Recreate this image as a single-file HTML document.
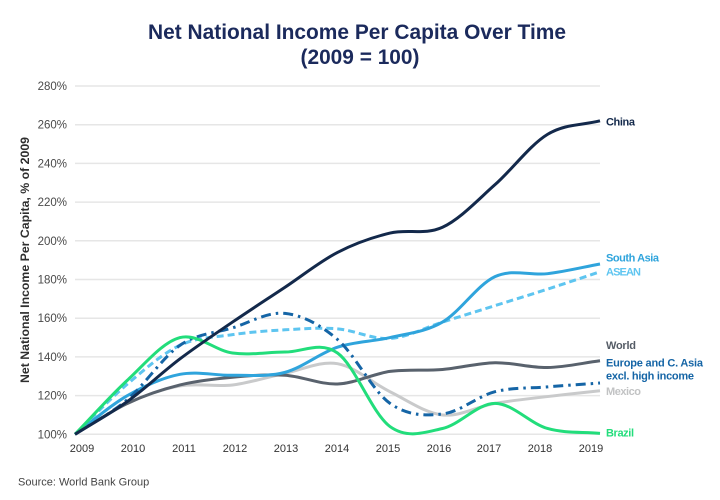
<!DOCTYPE html>
<html><head><meta charset="utf-8"><style>
html,body{margin:0;padding:0;background:#fff;}
svg{display:block;}
text{font-family:"Liberation Sans",Arial,sans-serif;}
</style></head><body>
<svg width="720" height="500" viewBox="0 0 720 500" xmlns="http://www.w3.org/2000/svg">
<rect width="720" height="500" fill="#fff"/>
<text x="357" y="39" text-anchor="middle" font-size="21" font-weight="bold" fill="#1b2a5c" textLength="418" lengthAdjust="spacingAndGlyphs">Net National Income Per Capita Over Time</text>
<text x="360" y="64" text-anchor="middle" font-size="21" font-weight="bold" fill="#1b2a5c" textLength="119" lengthAdjust="spacingAndGlyphs">(2009 = 100)</text>

<g stroke="#e6e6e6" stroke-width="1.5">
<line x1="75" x2="600" y1="434.3" y2="434.3"/>
<line x1="75" x2="600" y1="395.6" y2="395.6"/>
<line x1="75" x2="600" y1="356.9" y2="356.9"/>
<line x1="75" x2="600" y1="318.2" y2="318.2"/>
<line x1="75" x2="600" y1="279.5" y2="279.5"/>
<line x1="75" x2="600" y1="240.8" y2="240.8"/>
<line x1="75" x2="600" y1="202.1" y2="202.1"/>
<line x1="75" x2="600" y1="163.4" y2="163.4"/>
<line x1="75" x2="600" y1="124.7" y2="124.7"/>
<line x1="75" x2="600" y1="86" y2="86"/>
</g>
<g font-size="11.5" fill="#4a4a4a" text-anchor="end">
<text x="67" y="438.3">100%</text>
<text x="67" y="399.6">120%</text>
<text x="67" y="360.9">140%</text>
<text x="67" y="322.2">160%</text>
<text x="67" y="283.5">180%</text>
<text x="67" y="244.8">200%</text>
<text x="67" y="206.1">220%</text>
<text x="67" y="167.4">240%</text>
<text x="67" y="128.7">260%</text>
<text x="67" y="90">280%</text>
</g>
<g font-size="11" fill="#333" text-anchor="middle">
<text x="82" y="452">2009</text>
<text x="133" y="452">2010</text>
<text x="184" y="452">2011</text>
<text x="235" y="452">2012</text>
<text x="286" y="452">2013</text>
<text x="337" y="452">2014</text>
<text x="388" y="452">2015</text>
<text x="439" y="452">2016</text>
<text x="489" y="452">2017</text>
<text x="540" y="452">2018</text>
<text x="591" y="452">2019</text>
</g>
<text transform="translate(29,260) rotate(-90)" text-anchor="middle" font-size="12" font-weight="bold" fill="#2e2e2e" textLength="246" lengthAdjust="spacingAndGlyphs">Net National Income Per Capita, % of 2009</text>
<text x="18" y="485.5" font-size="11" fill="#444">Source: World Bank Group</text>

<g transform="translate(75,434.3) scale(52.5,-1.935)" fill="none" stroke-width="3" stroke-linejoin="round">
<path vector-effect="non-scaling-stroke" stroke="#c9cacb" d="M0,0 C.333,5.33 .667,11.83 1,16 C1.333,20.17 1.667,23.42 2,25 C2.333,26.58 2.667,24.42 3,25.5 C3.333,26.58 3.667,29.67 4,31.5 C4.333,33.33 4.667,38.08 5,36.5 C5.333,34.92 5.667,26.42 6,22 C6.333,17.58 6.667,11 7,10 C7.333,9 7.667,14.42 8,16 C8.333,17.58 8.667,18.42 9,19.5 C9.333,20.58 9.667,21.5 10,22.5"/>
<path vector-effect="non-scaling-stroke" stroke="#59626d" d="M0,0 C.333,5.33 .667,11.75 1,16 C1.333,20.25 1.667,23.25 2,25.5 C2.333,27.75 2.667,28.67 3,29.5 C3.333,30.33 3.667,31.08 4,30.5 C4.333,29.92 4.667,25.67 5,26 C5.333,26.33 5.667,31.25 6,32.5 C6.333,33.75 6.667,32.75 7,33.5 C7.333,34.25 7.667,36.83 8,37 C8.333,37.17 8.667,34.33 9,34.5 C9.333,34.67 9.667,36.83 10,38"/>
<path vector-effect="non-scaling-stroke" stroke="#5ec5f0" stroke-dasharray="7 4" d="M0,0 C.333,8.67 .667,18.33 1,26 C1.333,33.67 1.667,41.75 2,46 C2.333,50.25 2.667,50.17 3,51.5 C3.333,52.83 3.667,53.5 4,54 C4.333,54.5 4.667,55.25 5,54.5 C5.333,53.75 5.667,48.92 6,49.5 C6.333,50.08 6.667,55.17 7,58 C7.333,60.83 7.667,63.67 8,66.5 C8.333,69.33 8.667,72.08 9,75 C9.333,77.92 9.667,81 10,84"/>
<path vector-effect="non-scaling-stroke" stroke="#2fa4dc" d="M0,0 C.333,6.67 .667,14.83 1,20 C1.333,25.17 1.667,29.25 2,31 C2.333,32.75 2.667,30.33 3,30.5 C3.333,30.67 3.667,29.58 4,32 C4.333,34.42 4.667,42 5,45 C5.333,48 5.667,47.83 6,50 C6.333,52.17 6.667,52.75 7,58 C7.333,63.25 7.667,77.33 8,81.5 C8.333,85.67 8.667,81.92 9,83 C9.333,84.08 9.667,86.33 10,88"/>
<path vector-effect="non-scaling-stroke" stroke="#1565a6" stroke-dasharray="10 5 2.5 5" d="M0,0 C.333,6 .667,10.33 1,18 C1.333,25.67 1.667,39.83 2,46 C2.333,52.17 2.667,52.25 3,55 C3.333,57.75 3.667,63.5 4,62.5 C4.333,61.5 4.667,56.75 5,49 C5.333,41.25 5.667,22.42 6,16 C6.333,9.58 6.667,9.5 7,10.5 C7.333,11.5 7.667,19.67 8,22 C8.333,24.33 8.667,23.75 9,24.5 C9.333,25.25 9.667,25.83 10,26.5"/>
<path vector-effect="non-scaling-stroke" stroke="#22dd7b" d="M0,0 C.333,9.33 .667,19.67 1,28 C1.333,36.33 1.667,47.67 2,50 C2.333,52.33 2.667,43.25 3,42 C3.333,40.75 3.667,42.5 4,42.5 C4.333,42.5 4.667,48.42 5,42 C5.333,35.58 5.667,10.5 6,4 C6.333,-2.5 6.667,1 7,3 C7.333,5 7.667,16 8,16 C8.333,16 8.667,5.58 9,3 C9.333,0.42 9.667,1.33 10,0.5"/>
<path vector-effect="non-scaling-stroke" stroke="#13294b" d="M0,0 C.333,5.67 .667,10.5 1,17 C1.333,23.5 1.667,32.17 2,39 C2.333,45.83 2.667,51.83 3,58 C3.333,64.17 3.667,70 4,76 C4.333,82 4.667,89.33 5,94 C5.333,98.67 5.667,101.83 6,104 C6.333,106.17 6.667,102.83 7,107 C7.333,111.17 7.667,121 8,129 C8.333,137 8.667,149.5 9,155 C9.333,160.5 9.667,159.67 10,162"/>
</g>

<g font-size="11" font-weight="bold" lengthAdjust="spacingAndGlyphs">
<text x="606" y="125.7" fill="#13294b" textLength="29">China</text>
<text x="606" y="261.7" fill="#2fa4dc" textLength="53">South Asia</text>
<text x="606" y="275.7" fill="#5ec5f0" textLength="35">ASEAN</text>
<text x="606" y="349" fill="#555c66" textLength="30">World</text>
<text x="606" y="366.7" fill="#1565a6" textLength="97">Europe and C. Asia</text>
<text x="606" y="379.3" fill="#1565a6" textLength="88">excl. high income</text>
<text x="606" y="395" fill="#c2c3c4" textLength="35">Mexico</text>
<text x="606" y="436.7" fill="#22dd7b" textLength="28">Brazil</text>
</g>
</svg>
</body></html>
